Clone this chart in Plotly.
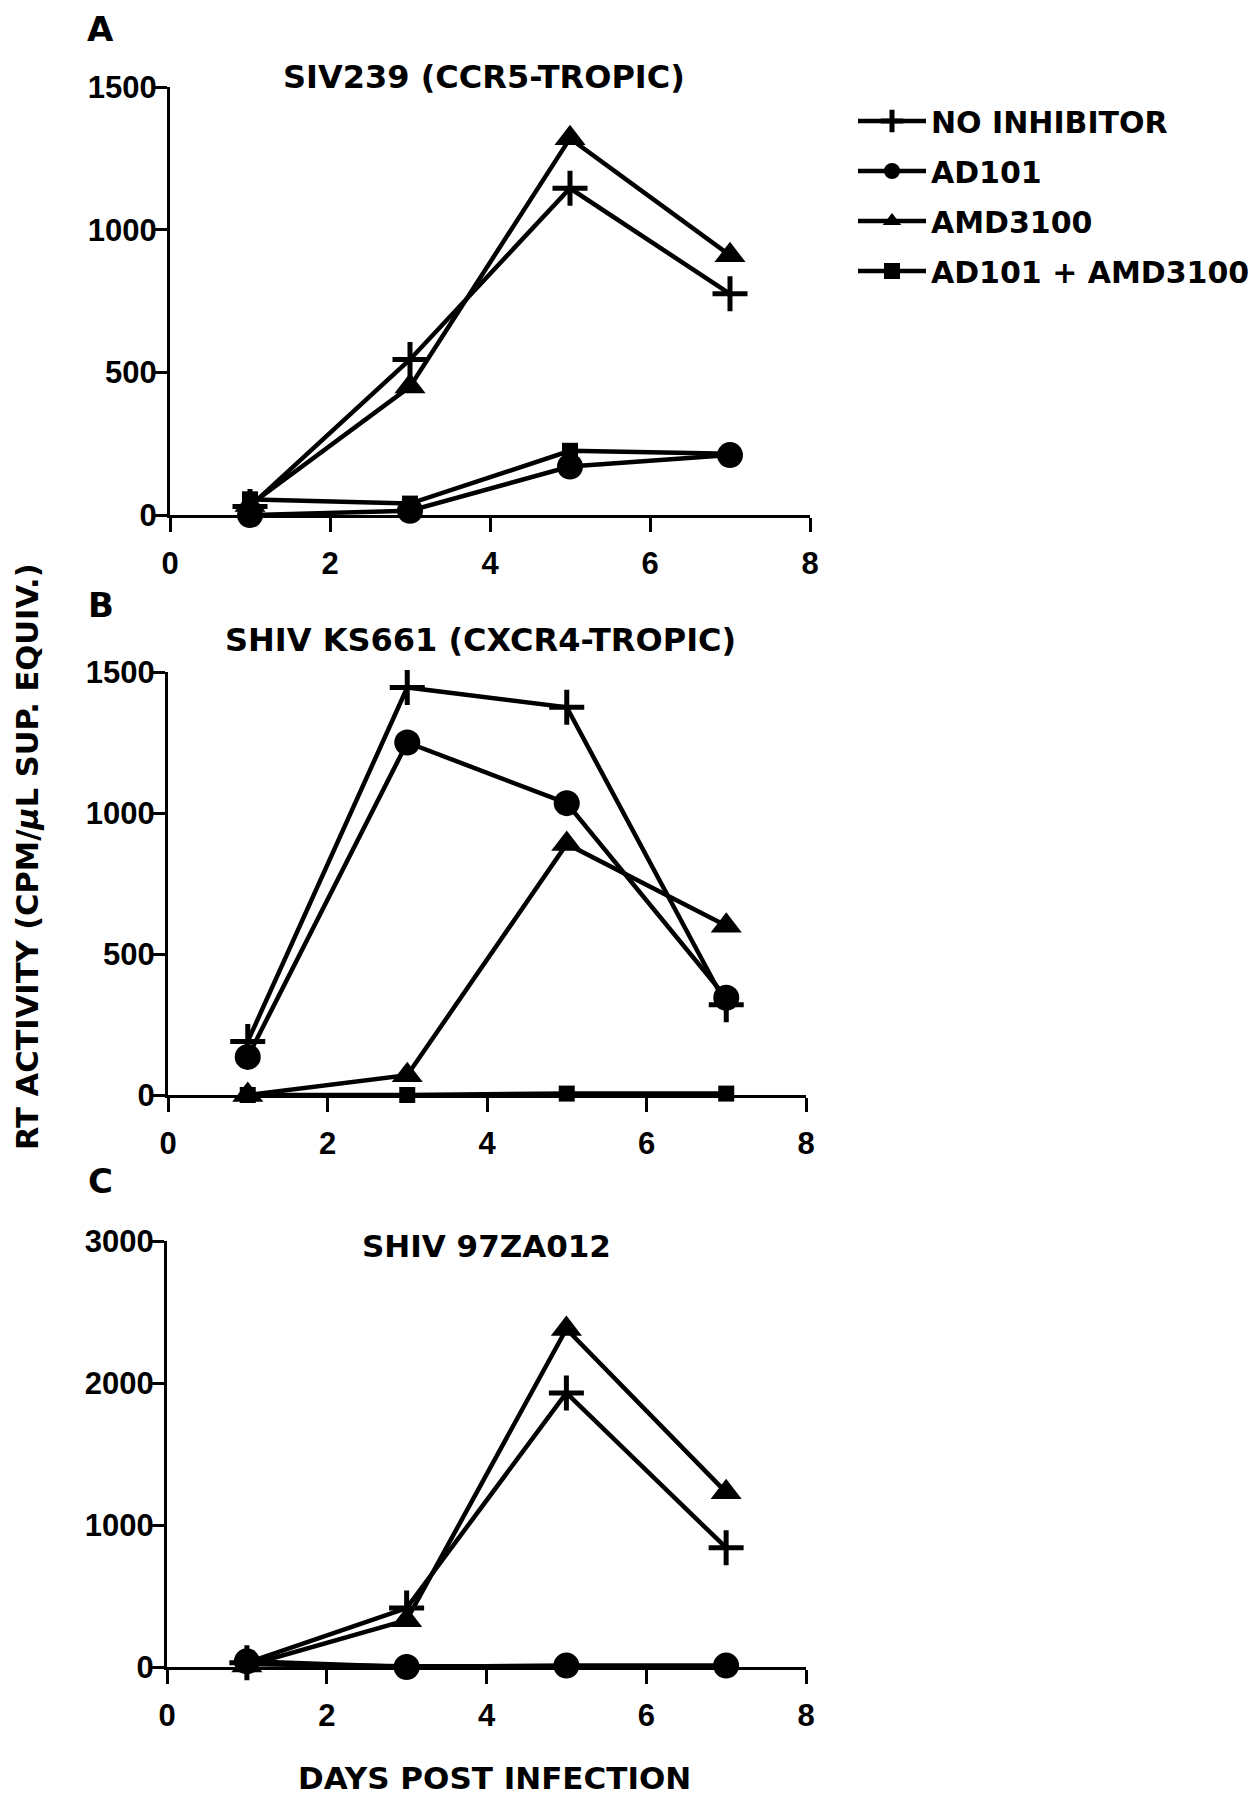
import plotly.graph_objects as go

days = [1, 3, 5, 7]
series_names = ["NO INHIBITOR", "AD101", "AMD3100", "AD101 + AMD3100"]

# Panel A: SIV239 (CCR5-TROPIC)
no_inh_A = [30, 545, 1145, 775]
ad101_A = [0, 15, 170, 210]
amd_A = [35, 450, 1320, 910]
combo_A = [55, 40, 225, 215]

# Panel B: SHIV KS661 (CXCR4-TROPIC)
no_inh_B = [190, 1445, 1375, 320]
ad101_B = [135, 1250, 1035, 345]
amd_B = [0, 70, 890, 600]
combo_B = [0, 0, 5, 5]

# Panel C: SHIV 97ZA012
no_inh_C = [30, 415, 1930, 840]
ad101_C = [40, 0, 10, 10]
amd_C = [10, 330, 2380, 1230]
combo_C = [20, 5, 5, 5]

panel_titles = ["SIV239 (CCR5-TROPIC)", "SHIV KS661 (CXCR4-TROPIC)", "SHIV 97ZA012"]
panel_letters = ["A", "B", "C"]
x_ticks = [0, 2, 4, 6, 8]
y_ticks_AB = [0, 500, 1000, 1500]
y_ticks_C = [0, 1000, 2000, 3000]

NUMFONT = "Liberation Sans, Arial, Helvetica, sans-serif"
TXTFONT = "DejaVu Sans, Verdana, sans-serif"

# page is 1257x1806; the html body has an 8px margin
PAGE_OFF = 8
FW, FH = 1257 - 2 * PAGE_OFF, 1806 - 2 * PAGE_OFF


def PX(x):
    return (x - PAGE_OFF) / FW


def PY(y):
    return 1 - (y - PAGE_OFF) / FH


markers = [
    dict(symbol="cross-thin", size=25, color="black", line=dict(color="black", width=5)),
    dict(symbol="circle", size=26, color="black", line=dict(color="black", width=0)),
    dict(symbol="triangle-up", size=27, color="black", line=dict(color="black", width=0)),
    dict(symbol="square", size=16, color="black", line=dict(color="black", width=0)),
]

panels = [
    (no_inh_A, ad101_A, amd_A, combo_A),
    (no_inh_B, ad101_B, amd_B, combo_B),
    (no_inh_C, ad101_C, amd_C, combo_C),
]

# page-pixel layout (left, right, top, bottom) of each plot area
px_boxes = [
    (170, 810, 87, 515),
    (168, 806, 672, 1095),
    (167, 806, 1241, 1667),
]
y_ranges = [[0, 1500], [0, 1500], [0, 3000]]
y_tickvals = [y_ticks_AB, y_ticks_AB, y_ticks_C]

fig = go.Figure()

for p, series in enumerate(panels):
    xa = "x" if p == 0 else f"x{p+1}"
    ya = "y" if p == 0 else f"y{p+1}"
    for s, vals in enumerate(series):
        fig.add_trace(go.Scatter(
            x=days, y=vals, mode="lines+markers",
            name=series_names[s], legendgroup=series_names[s],
            showlegend=(p == 0),
            line=dict(color="black", width=4.5),
            marker=markers[s],
            cliponaxis=False,
            xaxis=xa, yaxis=ya,
        ))

layout = dict(
    width=FW, height=FH,
    margin=dict(l=0, r=0, t=0, b=0, autoexpand=False),
    template="none",
    paper_bgcolor="white", plot_bgcolor="white",
    font=dict(family=NUMFONT, size=30, color="black"),
    showlegend=True,
    legend=dict(
        x=PX(853), y=PY(95), xanchor="left", yanchor="top",
        font=dict(family=TXTFONT, size=30, color="black", weight="bold"),
        bgcolor="rgba(0,0,0,0)", borderwidth=0,
        traceorder="grouped", tracegroupgap=8, itemwidth=68,
        itemsizing="trace",
    ),
)

title_pos = [(484, 77), (480, 640), (486, 1246)]
title_size = [32, 32, 31]
annotations = []
for p in range(3):
    l, r, t, b = px_boxes[p]
    sx = "" if p == 0 else str(p + 1)
    layout[f"xaxis{sx}"] = dict(
        domain=[PX(l), PX(r)], anchor=f"y{sx}", range=[0, 8],
        tickvals=x_ticks, ticks="outside", ticklen=14, tickwidth=3, tickcolor="black",
        showline=True, linewidth=3, linecolor="black", showgrid=False, zeroline=False,
        tickfont=dict(family=NUMFONT, size=31, color="black", weight="bold"),
        ticklabelstandoff=5, automargin=False, fixedrange=True,
    )
    layout[f"yaxis{sx}"] = dict(
        domain=[PY(b), PY(t)], anchor=f"x{sx}", range=y_ranges[p],
        tickvals=y_tickvals[p], ticks="outside", ticklen=14, tickwidth=3, tickcolor="black",
        showline=True, linewidth=3, linecolor="black", showgrid=False, zeroline=False,
        tickfont=dict(family=NUMFONT, size=31, color="black", weight="bold"),
        ticklabelstandoff=-10, automargin=False, fixedrange=True,
    )
    tx, ty = title_pos[p]
    annotations.append(dict(
        text=panel_titles[p], xref="paper", yref="paper",
        x=PX(tx), y=PY(ty), xanchor="center", yanchor="middle",
        showarrow=False, font=dict(family=TXTFONT, size=title_size[p], color="black", weight="bold"),
    ))

letter_pos = [(101, 29), (101, 605), (101, 1181)]
for p in range(3):
    lx, ly = letter_pos[p]
    annotations.append(dict(
        text=panel_letters[p], xref="paper", yref="paper",
        x=PX(lx), y=PY(ly), xanchor="center", yanchor="middle",
        showarrow=False, font=dict(family=TXTFONT, size=34, color="black", weight="bold"),
    ))

annotations.append(dict(
    text="RT ACTIVITY (CPM/<i>μ</i>L SUP. EQUIV.)", xref="paper", yref="paper",
    x=PX(27), y=PY(857), xanchor="center", yanchor="middle", textangle=-90,
    showarrow=False, font=dict(family=TXTFONT, size=30.5, color="black", weight="bold"),
))
annotations.append(dict(
    text="DAYS POST INFECTION", xref="paper", yref="paper",
    x=PX(494), y=0, xanchor="center", yanchor="bottom",
    showarrow=False, font=dict(family=TXTFONT, size=31, color="black", weight="bold"),
))

layout["annotations"] = annotations
fig.update_layout(**layout)

fig.write_html("out.html")
